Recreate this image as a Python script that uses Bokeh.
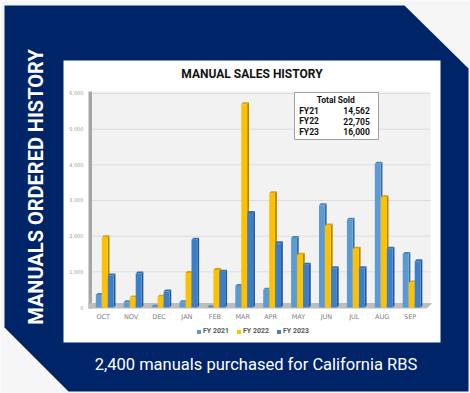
import math
from bokeh.plotting import figure
from bokeh.models import (Range1d, FixedTicker, NumeralTickFormatter, Label,
                          Legend, LegendItem)
from bokeh.embed import file_html
from bokeh.resources import INLINE

# ---------------- data ----------------
months = ["OCT", "NOV", "DEC", "JAN", "FEB", "MAR", "APR", "MAY", "JUN", "JUL", "AUG", "SEP"]
fy2021 = [350, 150, 20, 150, 10, 600, 500, 1950, 2870, 2460, 4030, 1500]
fy2022 = [1970, 280, 300, 970, 1050, 5700, 3200, 1480, 2300, 1650, 3090, 700]
fy2023 = [900, 950, 450, 1900, 1000, 2650, 1800, 1200, 1100, 1100, 1650, 1300]
series_names = ["FY 2021", "FY 2022", "FY 2023"]
total_labels = ["FY21", "FY22", "FY23"]
total_values = [14562, 22705, 16000]
y_ticks = [0, 1000, 2000, 3000, 4000, 5000, 6000]

title_text = "MANUAL SALES HISTORY"
side_text = "MANUALS ORDERED HISTORY"
bottom_text = "2,400 manuals purchased for California RBS"

# ---------------- geometry (page pixels) ----------------
W, H = 470, 393
FR_L, FR_R, FR_T, FR_B = 88, 430, 91, 308   # chart area
PX0, PXU = 88.75, 27.9          # x = 0 at PX0, PXU px per category
PY0, PYU = 307.0, 0.03567       # y = 0 at PY0, PYU px per unit


def dx(ix):
    return (ix - PX0) / PXU


def dy(iy):
    return (PY0 - iy) / PYU


NAVY = "#002468"
PAGE = "#f6f6f6"
fronts = ["#5b9bd5", "#ffc000", "#3a7fcc"]
sides = ["#3e6c99", "#b08400", "#28588f"]
tops = ["#4d86bd", "#dba500", "#3270b5"]

p = figure(width=W, height=H, output_backend="svg", toolbar_location=None,
           x_range=Range1d(dx(0), dx(W)), y_range=Range1d(dy(H), dy(0)),
           min_border=0, border_fill_color=PAGE, background_fill_color=PAGE,
           outline_line_color=None)
p.title.visible = False

# ---------------- navy banner with cut corners, white panel ----------------
banner = [(4, 5), (404, 5), (468, 68), (468, 391), (68, 391), (4, 327)]
p.patch(x=[dx(a) for a, b in banner], y=[dy(b) for a, b in banner],
        fill_color=NAVY, line_color=None)
p.quad(left=dx(63), right=dx(440), top=dy(60), bottom=dy(342),
       fill_color="white", line_color=None)

# ---------------- 3D walls ----------------
p.quad(left=dx(91), right=dx(FR_R), top=dy(FR_T), bottom=dy(305),
       fill_color="#f2f2f2", line_color=None)
p.segment(x0=dx(91), x1=dx(FR_R), y0=y_ticks[1:], y1=y_ticks[1:],
          line_color="#dcdcdc", line_width=1)
p.quad(left=dx(FR_L), right=dx(91.5), bottom=dy(FR_B), top=dy(FR_T),
       fill_color="#a6a6a6", line_color=None)
p.patch(x=[dx(FR_L), dx(426), dx(431), dx(431), dx(FR_L)],
        y=[dy(FR_B), dy(FR_B), dy(303.5), dy(302.5), dy(302.5)],
        fill_color="#bdbdbd", line_color=None)

# ---------------- 3D bars ----------------
centers = [i + 0.5 for i in range(len(months))]
BW = 0.21
STEP = 0.215
GOFF = 0.055
DEPX = 1.8 / PXU
DEPY = 2.0 / PYU
renderers = []
for s, vals in enumerate([fy2021, fy2022, fy2023]):
    xc = [c + GOFF + (s - 1) * STEP for c in centers]
    x0 = [x - BW / 2 for x in xc]
    x1 = [x + BW / 2 for x in xc]
    p.patches(xs=[[b, b + DEPX, b + DEPX, b] for b in x1],
              ys=[[0, DEPY, v + DEPY, v] for v in vals],
              fill_color=sides[s], line_color=None)
    p.patches(xs=[[a, a + DEPX, b + DEPX, b] for a, b in zip(x0, x1)],
              ys=[[v, v + DEPY, v + DEPY, v] for v in vals],
              fill_color=tops[s], line_color=None)
    r = p.vbar(x=xc, width=BW, top=vals, bottom=0, fill_color=fronts[s], line_color=None)
    renderers.append(r)

# ---------------- axes (fixed inside the full-canvas frame) ----------------
p.xaxis.fixed_location = dy(FR_B)
p.xaxis.ticker = FixedTicker(ticks=centers)
p.xaxis.major_label_overrides = {c: m for c, m in zip(centers, months)}
p.xaxis.axis_line_color = None
p.xaxis.major_tick_line_color = None
p.xaxis.minor_tick_line_color = None
p.xaxis.major_tick_out = 0
p.xaxis.major_tick_in = 0
p.xaxis.major_label_text_font = "DejaVu Sans"
p.xaxis.major_label_text_font_size = "6.5px"
p.xaxis.major_label_text_color = "#808080"
p.xaxis.major_label_standoff = 4

p.yaxis.fixed_location = dx(FR_L)
p.yaxis.ticker = FixedTicker(ticks=y_ticks)
p.yaxis.formatter = NumeralTickFormatter(format="0,0")
p.yaxis.axis_line_color = None
p.yaxis.major_tick_line_color = None
p.yaxis.minor_tick_line_color = None
p.yaxis.major_tick_out = 0
p.yaxis.major_tick_in = 0
p.yaxis.major_label_text_font = "DejaVu Sans"
p.yaxis.major_label_text_font_size = "5px"
p.yaxis.major_label_text_color = "#9a9a9a"
p.yaxis.major_label_standoff = 5

p.xgrid.visible = False
p.ygrid.visible = False

# ---------------- totals box ----------------
p.quad(left=dx(294), right=dx(378), top=dy(92), bottom=dy(139),
       fill_color="white", line_color="#a0a0a0", line_width=1)

# ---------------- texts ----------------
p.add_layout(Label(x=dx(251.5), y=dy(73), text=title_text, text_align="center",
                   text_baseline="middle", text_font="Roboto", text_font_style="bold",
                   text_font_size="12px", text_color="#111111"))

p.add_layout(Label(x=dx(35), y=dy(186.5), text=side_text, angle=math.pi / 2,
                   text_align="center", text_baseline="middle", text_font="Roboto",
                   text_font_style="bold", text_font_size="20px", text_color="white"))

p.add_layout(Label(x=dx(255.5), y=dy(364), text=bottom_text, text_align="center",
                   text_baseline="middle", text_font="Roboto", text_font_size="16.5px",
                   text_color="white"))

p.add_layout(Label(x=dx(335.3), y=dy(99.5), text="Total Sold", text_align="center",
                   text_baseline="middle", text_font="Roboto", text_font_style="bold",
                   text_font_size="8.5px", text_color="#111111"))
for k, (lab, val) in enumerate(zip(total_labels, total_values)):
    yy = 110.3 + k * 10.5
    p.add_layout(Label(x=dx(298.7), y=dy(yy), text=lab, text_align="left",
                       text_baseline="middle", text_font="Roboto", text_font_style="bold",
                       text_font_size="8.5px", text_color="#111111"))
    p.add_layout(Label(x=dx(369.3), y=dy(yy), text=f"{val:,}", text_align="right",
                       text_baseline="middle", text_font="Roboto", text_font_style="bold",
                       text_font_size="8.5px", text_color="#111111"))

# legend
legend = Legend(items=[LegendItem(label=n, renderers=[r]) for n, r in zip(series_names, renderers)],
                location=(196, H - 335), orientation="horizontal",
                glyph_width=5, glyph_height=5, label_height=7, label_standoff=2,
                spacing=7, padding=0, margin=0, border_line_color=None,
                background_fill_alpha=0, label_text_font="Roboto",
                label_text_font_style="bold", label_text_font_size="7px",
                label_text_color="#595959")
p.add_layout(legend)

open("out.html", "w").write(file_html(p, INLINE))
